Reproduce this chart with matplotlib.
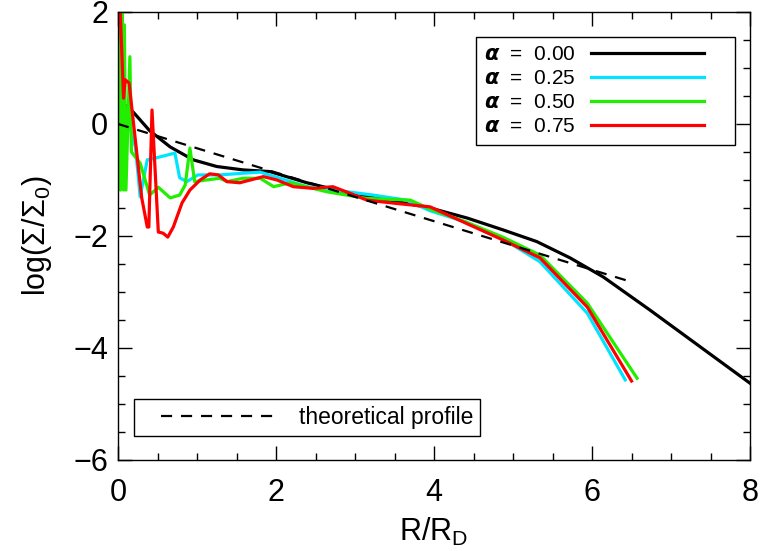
import numpy as np
import matplotlib
matplotlib.use("Agg")
import matplotlib.pyplot as plt
from matplotlib.ticker import MultipleLocator
from matplotlib.lines import Line2D
from matplotlib.legend_handler import HandlerLine2D

# DATA SECTION------------------------------------------------------------------
r_a00 = [0.0, 0.01, 0.1, 0.2, 0.4, 0.66, 0.95, 1.25, 1.58, 1.92, 2.39, 2.94,
         3.44, 3.95, 4.42, 4.87, 5.3, 5.72, 6.14, 6.73, 8.0]
s_a00 = [0.05, 0.3, 0.33, 0.2, -0.12, -0.41, -0.64, -0.76, -0.82, -0.85, -1.05,
         -1.24, -1.36, -1.5, -1.68, -1.89, -2.1, -2.39, -2.73, -3.32, -4.63]

r_a25 = [0.02, 0.1, 0.22, 0.28, 0.37, 0.47, 0.72, 0.78, 0.87, 1.01, 1.29, 1.58,
         1.8, 2.39, 3.23, 3.65, 3.95, 4.4, 4.87, 5.34, 5.94, 6.42]
s_a25 = [0.8, 0.2, -0.41, -1.3, -0.64, -0.61, -0.52, -0.96, -1.03, -0.91, -0.91,
         -0.88, -0.86, -1.12, -1.27, -1.36, -1.55, -1.75, -2.05, -2.46, -3.38, -4.57]

r_a50 = [0.0, 0.01, 0.03, 0.05, 0.07, 0.08, 0.10, 0.15, 0.17, 0.28, 0.4, 0.51,
         0.66, 0.78, 0.85, 0.91, 0.97, 1.12, 1.29, 1.38, 1.58, 1.8, 1.97, 2.18,
         2.64, 3.15, 3.7, 3.95, 4.4, 4.87, 5.34, 5.94, 6.57]
s_a50 = [-1.15, 2.2, -1.18, 2.2, -1.18, 1.77, -1.18, 1.2, -0.5, -0.7, -1.27,
         -1.13, -1.32, -1.27, -1.09, -0.43, -1.03, -1.0, -0.97, -1.03, -0.97,
         -0.97, -1.12, -1.05, -1.21, -1.33, -1.36, -1.52, -1.75, -2.02, -2.34,
         -3.2, -4.54]

r_a75 = [0.02, 0.07, 0.09, 0.14, 0.3, 0.37, 0.39, 0.43, 0.51, 0.57, 0.63, 0.7,
         0.81, 0.91, 1.04, 1.16, 1.27, 1.38, 1.54, 1.84, 2.01, 2.22, 2.47, 2.72,
         2.94, 3.15, 3.53, 3.95, 4.37, 4.87, 5.34, 5.94, 6.5]
s_a75 = [2.3, 0.46, 0.79, 0.73, -1.32, -1.84, -1.84, 0.25, -1.93, -1.95, -2.02,
         -1.84, -1.41, -1.18, -1.0, -0.89, -0.91, -1.03, -1.05, -0.94, -1.0,
         -1.12, -1.15, -1.12, -1.24, -1.36, -1.42, -1.48, -1.75, -2.07, -2.39,
         -3.27, -4.59]

r_theo = [0.0, 6.52]
s_theo = [0.0, -2.83]

alphas = ["0.00", "0.25", "0.50", "0.75"]
colors = ["black", "#00e5ff", "#22ee00", "#ff0000"]


class CutLine(HandlerLine2D):
    # legend line that leaves some empty room on its right side
    def __init__(self, cut=0.0, **kw):
        super().__init__(**kw)
        self.cut = cut

    def create_artists(self, legend, orig_handle, xdescent, ydescent,
                       width, height, fontsize, trans):
        return super().create_artists(legend, orig_handle, xdescent, ydescent,
                                      width - self.cut*fontsize, height,
                                      fontsize, trans)


# PLOTTING SECTION--------------------------------------------------------------
plt.rcParams['font.family'] = ['Liberation Sans', 'DejaVu Sans']
plt.rcParams['mathtext.fontset'] = 'custom'
plt.rcParams['mathtext.rm'] = 'Liberation Sans'
plt.rcParams['mathtext.it'] = 'Liberation Sans:italic'
plt.rcParams['mathtext.bf'] = 'Liberation Sans:bold'

fig = plt.figure(figsize=(7.6, 5.51), dpi=100)
ax = fig.add_axes([0.1553, 0.1652, 0.8316, 0.8131])

curves = [(r_a00, s_a00), (r_a25, s_a25), (r_a50, s_a50), (r_a75, s_a75)]
handles = []
for (r, s), c, a in zip(curves, colors, alphas):
    ax.plot(r, s, color=c, lw=2.3)
    handles.append(Line2D([], [], color=c, lw=2.3,
                          label=r"$\boldsymbol{\alpha}$  =  " + a))

theo, = ax.plot(r_theo, s_theo, color='black', lw=1.6, ls=(0, (5, 4)),
                label='theoretical profile')

ax.set_xlim(0, 8)
ax.set_ylim(-6, 2)
ax.xaxis.set_major_locator(MultipleLocator(2))
ax.xaxis.set_minor_locator(MultipleLocator(0.5))
ax.yaxis.set_major_locator(MultipleLocator(2))
ax.yaxis.set_minor_locator(MultipleLocator(0.5))
ax.tick_params(which='both', direction='in', top=True, right=True,
               labelsize=22, width=1)
ax.tick_params(which='major', length=10)
ax.tick_params(axis='y', which='major', pad=7)
ax.tick_params(axis='x', which='major', pad=13)
ax.tick_params(which='minor', length=5)
for sp in ax.spines.values():
    sp.set_linewidth(1)

ax.set_xlabel(r'R/R$_\mathrm{D}$', fontsize=22, labelpad=6)
ax.set_ylabel(r'log($\Sigma$/$\Sigma_\mathrm{0}$)', fontsize=22, labelpad=14)

leg1 = ax.legend(handles=handles, loc='upper right',
                 bbox_to_anchor=(0.976, 0.944), borderaxespad=0,
                 markerfirst=False, fontsize=15, handlelength=6.5,
                 handletextpad=0.75, labelspacing=0.24, fancybox=False,
                 edgecolor='black', framealpha=1, borderpad=0.4,
                 handler_map={Line2D: CutLine(cut=1.1)})
leg1.get_frame().set_linewidth(1)
ax.add_artist(leg1)

leg2 = ax.legend(handles=[theo], loc='lower left',
                 bbox_to_anchor=(0.025, 0.054), borderaxespad=0,
                 fontsize=16.5, handlelength=5.9, handletextpad=1.0,
                 fancybox=False, edgecolor='black', framealpha=1,
                 borderpad=0.3, handler_map={Line2D: HandlerLine2D(xpad=0.9)})
leg2.get_frame().set_linewidth(1)

fig.savefig("out.png", dpi=100)
